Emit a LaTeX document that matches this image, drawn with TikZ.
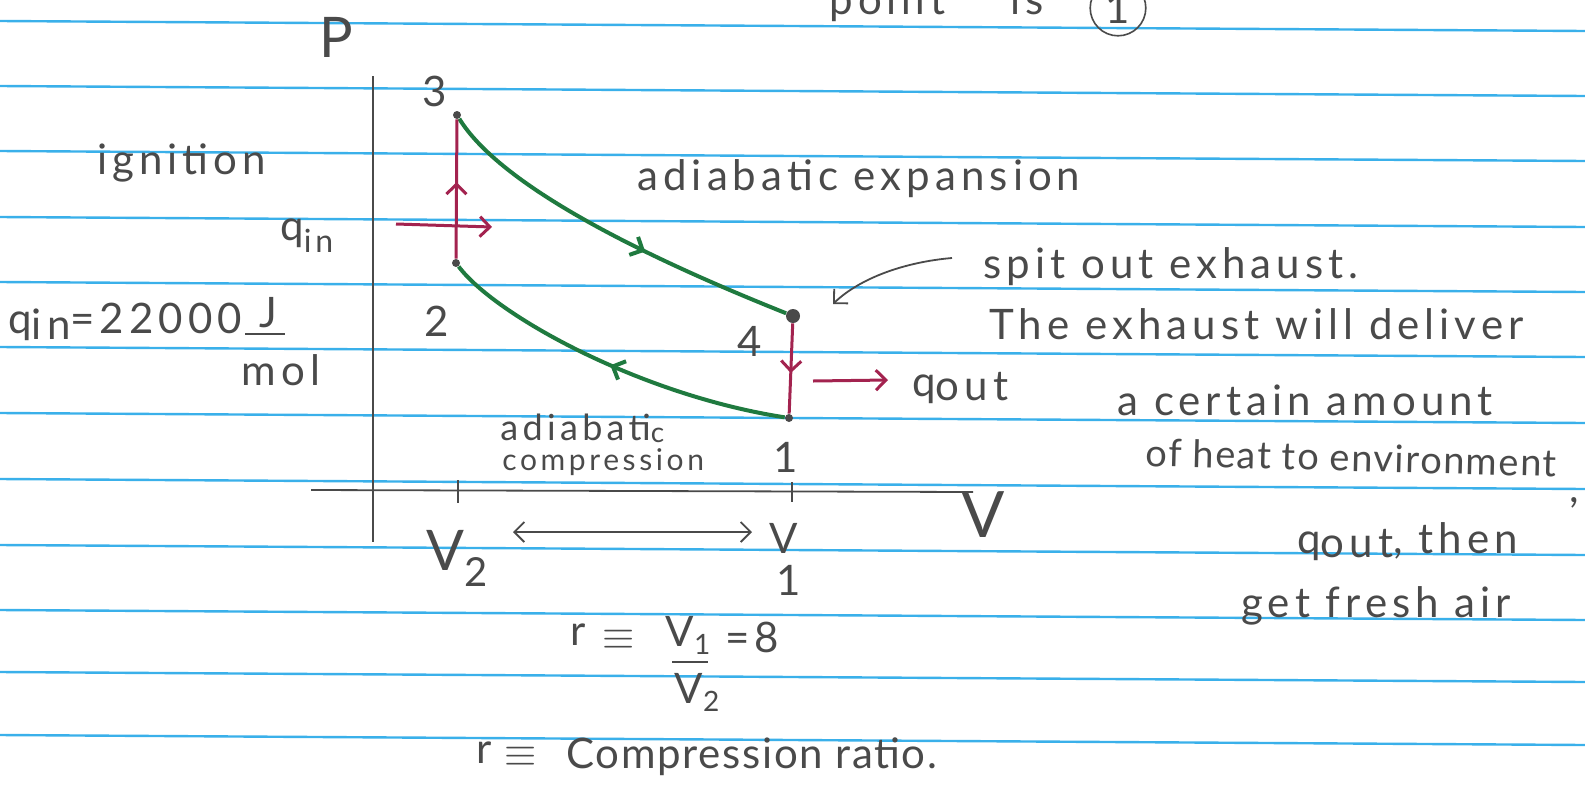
\documentclass[tikz,border=0pt]{standalone}
\usepackage{fontspec}
\setmainfont{Lato}
\newfontfamily\hand{Lato}[LetterSpace=12]
\newfontfamily\handtight{Lato}[LetterSpace=4]
\usetikzlibrary{arrows.meta,decorations.markings}
\definecolor{paperblue}{HTML}{3AB0EA}
\definecolor{pencil}{HTML}{4A4A4A}
\definecolor{marker}{HTML}{1F7A3F}
\definecolor{crimson}{HTML}{A3234F}
\begin{document}
\begin{tikzpicture}[x=0.5pt,y=-0.5pt,
  rule/.style={paperblue, line width=1.2pt},
  lbl/.style={text=pencil, font=\hand\fontsize{21}{24}\selectfont, inner sep=0pt},
  small/.style={text=pencil, font=\hand\fontsize{15}{18}\selectfont, inner sep=0pt},
  big/.style={text=pencil, font=\hand\fontsize{28}{32}\selectfont, inner sep=0pt},
  axisline/.style={pencil, line width=0.9pt},
  cyc/.style={marker, line width=2pt},
  heat/.style={crimson, line width=1.5pt},
  dot/.style={circle, fill=pencil, inner sep=0pt, minimum size=4pt},
  barb/.style={-{Straight Barb[length=5pt,width=10pt]}},
  midarrow/.style={postaction={decorate}, decoration={markings, mark=at position #1 with {\arrow{Straight Barb[length=5pt,width=10pt]}}}}
]
\useasboundingbox (0,0) rectangle (1585,788);
\fill[white] (0,0) rectangle (1585,788);
% ruled lines
\foreach \y in {21,86,151,217,282,347,413,479,545,610,672,735}
  \draw[rule] (0,\y) -- (1585,\y+10);

% axes
\coordinate (yTop) at (373,76);
\coordinate (yBot) at (373,542);
\coordinate (xLeft) at (311,490);
\coordinate (xRight) at (973,492);
\draw[axisline] (yTop) -- (yBot);
\draw[axisline] (xLeft) -- (xRight);
\coordinate (t2a) at (458,480); \coordinate (t2b) at (458,503);
\coordinate (t1a) at (792,482); \coordinate (t1b) at (792,502);
\draw[axisline] (t2a) -- (t2b);
\draw[axisline] (t1a) -- (t1b);
\node[big] (P) at (336,37) {P};
\node[big,font=\hand\fontsize{32}{36}\selectfont] (V) at (983,515) {V};

% cycle points
\node[dot] (p3) at (457,115) {};
\node[dot] (p2) at (456,263) {};
\node[dot,minimum size=7pt] (p4) at (793,316) {};
\node[dot] (p1) at (789,418) {};

% adiabats
\draw[cyc, midarrow=0.6] (p3) .. controls (500,185) and (640,255) .. (p4);
\draw[cyc, midarrow=0.5] (p1) .. controls (640,395) and (495,315) .. (p2);

% isochores
\draw[heat, midarrow=0.55] (p2) -- (p3);
\draw[heat, midarrow=0.55] (p4) -- (p1);

% heat arrows
\coordinate (qinA) at (396,224);
\coordinate (qinB) at (492,227);
\draw[heat, barb] (qinA) -- (qinB);
\coordinate (qoutA) at (813,381);
\coordinate (qoutB) at (888,380);
\draw[heat, barb] (qoutA) -- (qoutB);

% point labels
\node[lbl] (n3) at (435,91) {3};
\node[lbl] (n2) at (437,321) {2};
\node[lbl] (n4) at (750,341) {4};
\node[lbl] (n1) at (786,457) {1};

% left side labels
\node[lbl, anchor=base west] (ign) at (97,174) {ignition};
\node[lbl, anchor=base west] (qinlbl) at (280,240) {q\raisebox{-6pt}{\fontsize{16}{18}\selectfont in}};
\node[lbl, anchor=base west] (qinval) at (8,333) {q\raisebox{-3pt}{in}=22000};
\node[lbl] (J) at (268,313) {J};
\coordinate (barA) at (245,334);
\coordinate (barB) at (285,334);
\draw[pencil, line width=1pt] (barA) -- (barB);
\node[lbl] (mol) at (281,370) {mol};

% curve labels
\node[lbl, anchor=base west] (adex) at (637,190) {adiabatic expansion};
\node[small, anchor=base west] (adc1) at (500,440) {\fontsize{18}{20}\selectfont adiabati\raisebox{-1pt}{\fontsize{14}{16}\selectfont c}};
\node[small, anchor=base west] (adc2) at (502,470) {compression};

% exhaust notes
\node[lbl, anchor=base west] (spit) at (983,278) {spit out exhaust.};
\coordinate (exA) at (952,258);
\coordinate (exB) at (833,304);
\draw[pencil, line width=0.9pt, barb] (exA) .. controls (905,262) and (860,278) .. (exB);
\node[lbl, anchor=base west] (the) at (989,339) {The exhaust will deliver};
\node[lbl, anchor=base west] (qoutlbl) at (912,396) {q\raisebox{-2pt}{out}};
\node[lbl, anchor=base west] (cert) at (1117,415) {a certain amount};
\node[lbl, anchor=base west, font=\handtight\fontsize{19}{22}\selectfont, rotate=-1.5] (heat) at (1145,466) {of heat to environment};
\node[lbl] (comma) at (1574,503) {,};
\node[lbl, anchor=base west] (qthen) at (1297,553) {q\raisebox{-2pt}{out}, then};
\node[lbl, anchor=base west] (fresh) at (1241,617) {get fresh air};

% volume labels
\node[big] (V2) at (457,558) {V\raisebox{-8pt}{\fontsize{20}{22}\selectfont 2}};
\node[lbl] (V1V) at (784,538) {V};
\node[lbl] (V1n) at (789,580) {1};
\coordinate (dA) at (513,532);
\coordinate (dB) at (752,532);
\draw[pencil, line width=0.9pt, {Straight Barb[length=5pt,width=10pt]}-{Straight Barb[length=5pt,width=10pt]}] (dA) -- (dB);

% ratio
\node[lbl] (r1) at (578,635) {r};
\node[lbl] (eq1) at (619,640) {$\equiv$};
\node[lbl] (rv1) at (688,635) {V\raisebox{-4pt}{\fontsize{14}{16}\selectfont 1}};
\coordinate (fbA) at (672,662);
\coordinate (fbB) at (708,662);
\draw[pencil, line width=1pt] (fbA) -- (fbB);
\node[lbl] (rv2) at (697,692) {V\raisebox{-4pt}{\fontsize{14}{16}\selectfont 2}};
\node[lbl] (eq8) at (752,637) {=8};

\node[lbl] (r2) at (484,753) {r};
\node[lbl] (eq2) at (521,757) {$\equiv$};
\node[lbl, anchor=base west, font=\handtight\fontsize{21}{24}\selectfont] (cr) at (566,768) {Compression ratio.};

% top fragment
\node[lbl, anchor=base west] (pt) at (829,14) {point};
\node[lbl, anchor=base west] (is) at (1010,14) {is};
\node[lbl, circle, draw=pencil, line width=0.8pt, inner sep=3pt] (c1) at (1118,8) {1};
\end{tikzpicture}
\end{document}
